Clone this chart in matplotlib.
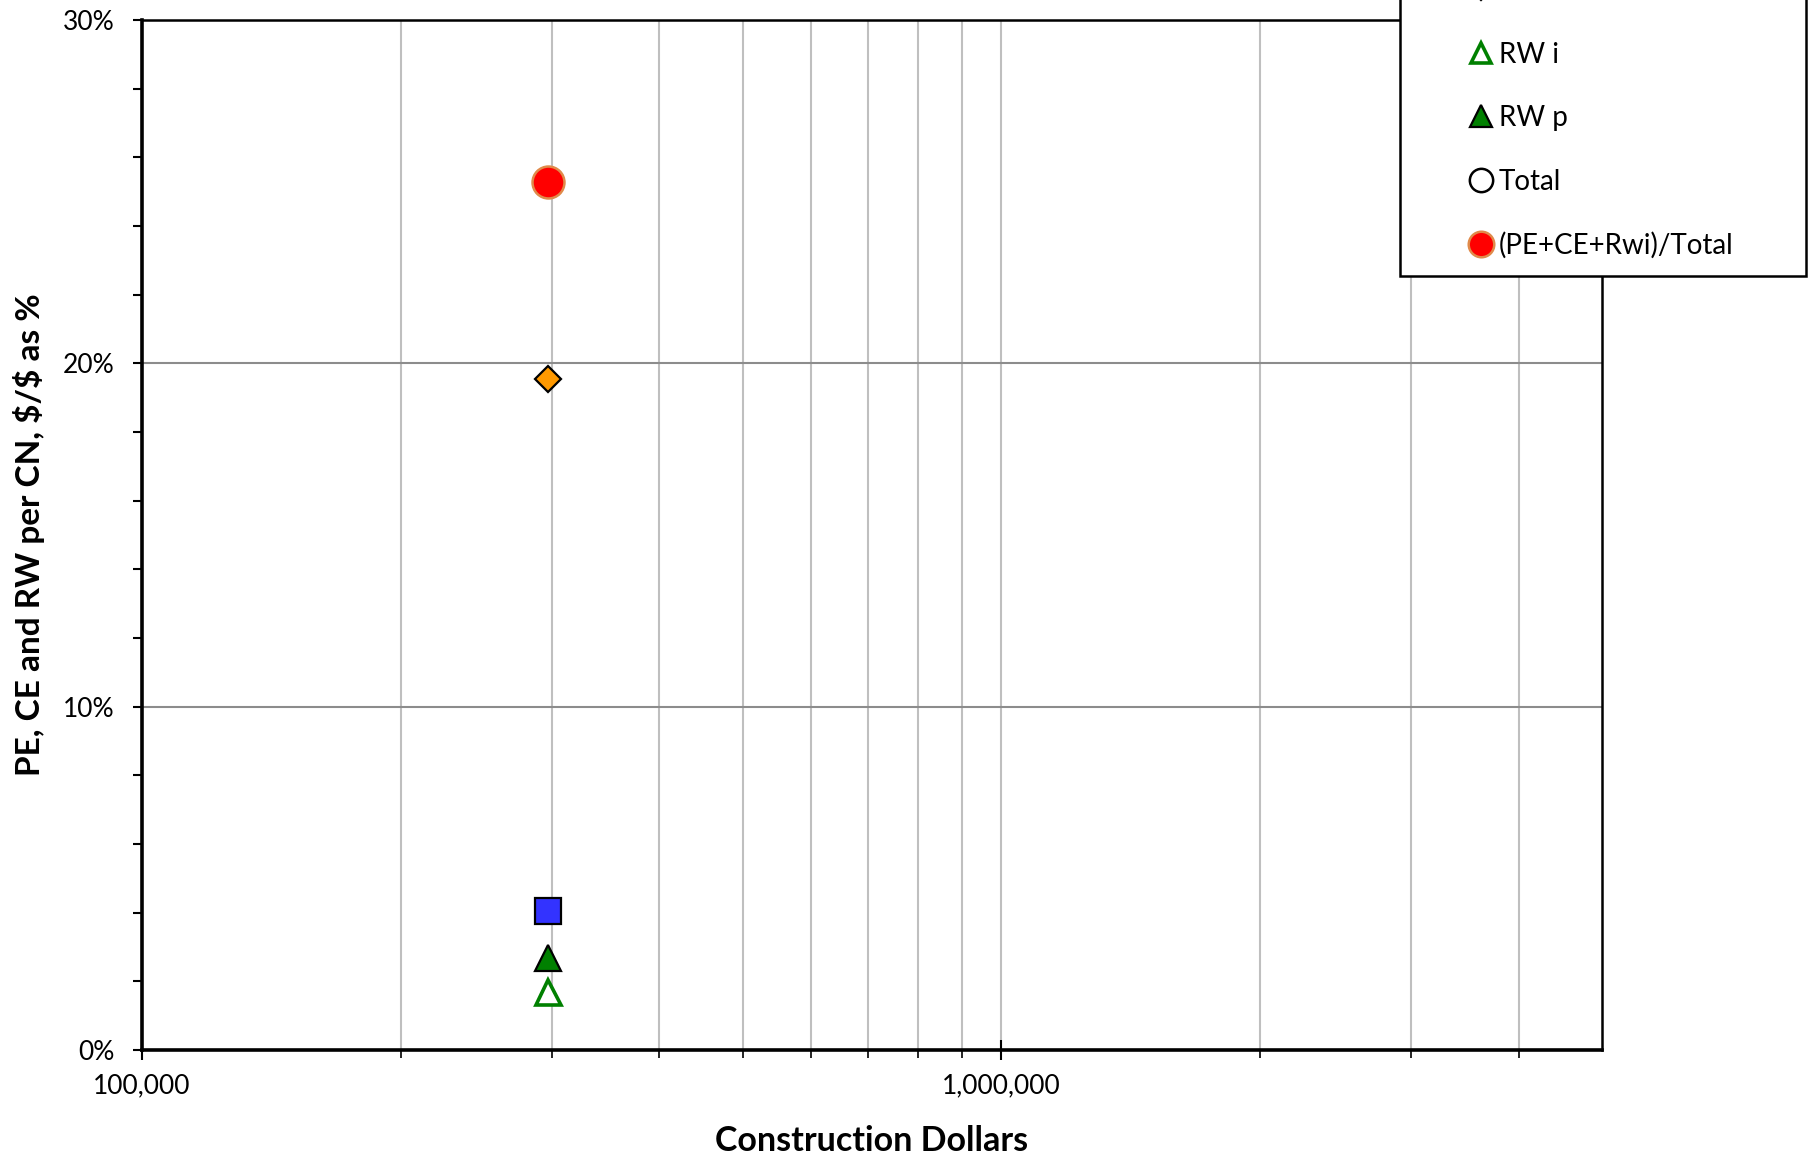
import numpy as np
import matplotlib
matplotlib.use("Agg")
import matplotlib.pyplot as plt
from matplotlib.ticker import FixedLocator, FuncFormatter, NullFormatter
from matplotlib.patches import Rectangle

plt.rcParams['font.family'] = ['Lato', 'DejaVu Sans']

# data (one project)
construction = [297000]
pe = [4.05]
ce = [19.55]
rw_i = [1.70]
rw_p = [2.68]
total = [np.nan]          # not visible inside the plotted range
ratio = [25.29]

W, H = 1812, 1159
fig = plt.figure(figsize=(W / 100, H / 100), dpi=100)
ax = fig.add_axes([142 / W, 1 - 1050 / H, 1460 / W, 1030 / H])

ax.set_xscale('log')
ax.set_xlim(1e5, 5e6)
ax.set_ylim(0, 30)

# gridlines
ax.xaxis.set_major_locator(FixedLocator([1e5, 1e6]))
minor_x = [k * 1e5 for k in range(2, 10)] + [k * 1e6 for k in range(2, 5)]
ax.xaxis.set_minor_locator(FixedLocator(minor_x))
ax.xaxis.set_major_formatter(FuncFormatter(lambda v, p: f"{v:,.0f}"))
ax.xaxis.set_minor_formatter(NullFormatter())
ax.yaxis.set_major_locator(FixedLocator([0, 10, 20, 30]))
ax.yaxis.set_minor_locator(FixedLocator(np.arange(2, 30, 2)))
ax.yaxis.set_major_formatter(FuncFormatter(lambda v, p: f"{v:.0f}%"))

ax.grid(True, axis='x', which='both', color='#bfbfbf', lw=1.5)
ax.grid(True, axis='y', which='major', color='#8c8c8c', lw=1.5)
ax.set_axisbelow(True)

for s in ['left', 'bottom']:
    ax.spines[s].set_linewidth(2.6)
for s in ['top', 'right']:
    ax.spines[s].set_linewidth(1.8)

ax.tick_params(axis='x', which='major', direction='inout', length=14, width=1.5,
               labelsize=19, pad=10)
ax.tick_params(axis='x', which='minor', direction='out', length=6, width=1.2)
ax.tick_params(axis='y', which='both', direction='out', length=6.5, width=1.5,
               labelsize=19, pad=13)

ax.plot(construction, pe, ls='none', marker='s', ms=18.5, mfc='#3333ff',
        mec='black', mew=1.6, label='PE')
ax.plot(construction, ce, ls='none', marker='D', ms=13.5, mfc='#ff9900',
        mec='black', mew=1.6, label='CE')
ax.plot(construction, rw_i, ls='none', marker='^', ms=18, mfc='white',
        mec='#008000', mew=2.6, label='RW i')
ax.plot(construction, rw_p, ls='none', marker='^', ms=19, mfc='#008000',
        mec='black', mew=1.6, label='RW p')
ax.plot(construction, total, ls='none', marker='o', ms=21, mfc='white',
        mec='black', mew=1.8, label='Total')
ax.plot(construction, ratio, ls='none', marker='o', ms=23, mfc='#ff0000',
        mec='#e08a4a', mew=1.8, label='(PE+CE+Rwi)/Total')

# legend box overflows the top of the figure like the original
box = Rectangle((1400 / W, 1 - 276 / H), 406 / W, 400 / H, transform=fig.transFigure,
                fill=True, facecolor='white', edgecolor='black', lw=1.8,
                clip_on=False, zorder=5)
fig.patches.append(box)
leg = fig.legend(loc='lower left', bbox_to_anchor=(1468 / W, 1 - 259 / H),
                 frameon=False, fontsize=20, markerscale=0.8,
                 labelspacing=1.35, handlelength=0.9, handletextpad=0.2,
                 borderpad=0, borderaxespad=0)
leg.set_zorder(6)

fig.text(872 / W, 1 - 1141 / H, 'Construction Dollars', ha='center', va='center',
         fontsize=24.5, fontweight='bold')
fig.text(29 / W, 1 - 535 / H, r'PE, CE and RW per CN, \$/\$ as %', ha='center',
         va='center', rotation=90, fontsize=24, fontweight='bold')

fig.savefig('out.png', dpi=100)
